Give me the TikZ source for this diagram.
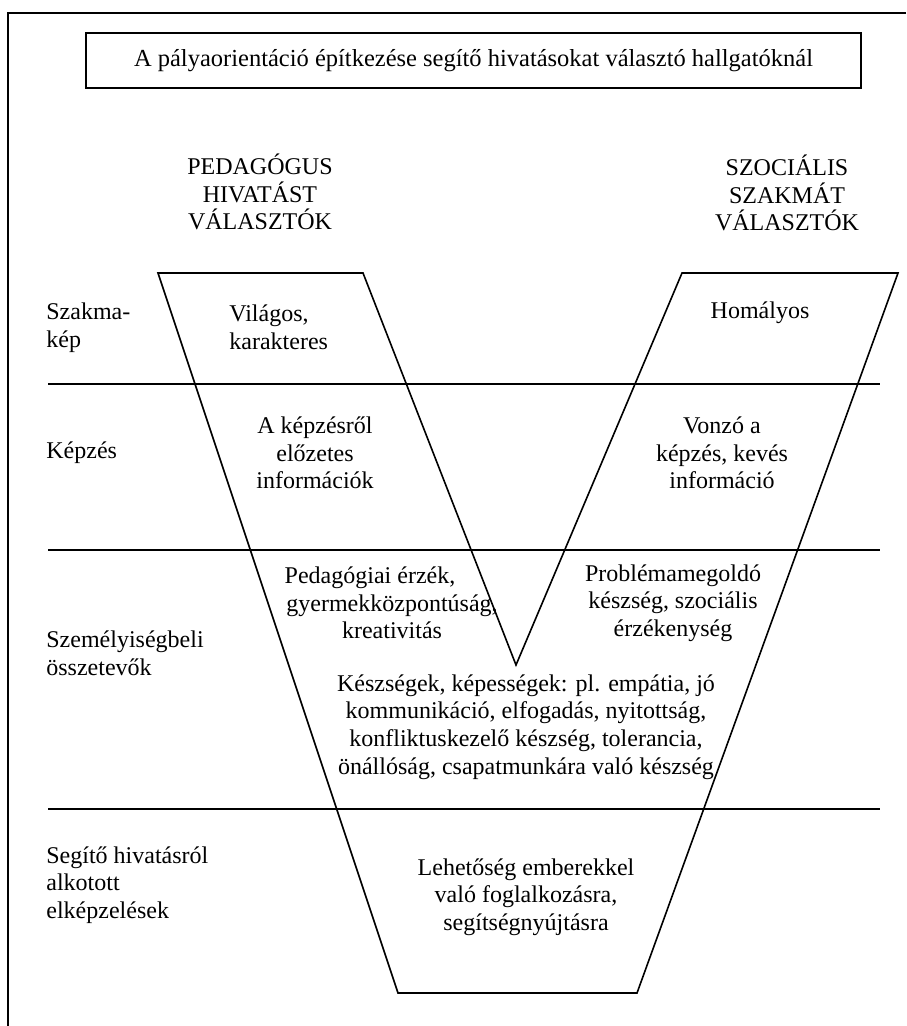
\documentclass[tikz,border=0pt]{standalone}
\usepackage{fontspec}
\setmainfont{Liberation Serif}
\usepackage{tikz}
\usepackage{xcolor}

\tikzset{
  rowline/.style={line width=0.8pt},
  rowlabel/.style={inner sep=0pt,anchor=west,align=left},
  celltext/.style={inner sep=0pt,align=center}
}

\begin{document}
\begin{tikzpicture}[x=0.5pt,y=-0.5pt,font=\fontsize{12}{13.8}\selectfont]
\useasboundingbox (0,0) rectangle (906,1026);
\draw [line width=1.1pt] (906,13) -- (8,13) -- (8,1026);
\node [draw,line width=1.1pt,minimum width=387.5pt,minimum height=27.5pt,
  font=\fontsize{12.25}{14}\selectfont] (title) at (473.5,60.5)
  {A pályaorientáció építkezése segítő hivatásokat választó hallgatóknál};

\node [celltext] (ped) at (260,192) {PEDAGÓGUS\\HIVATÁST\\VÁLASZTÓK};
\node [celltext] (szoc) at (787,193) {SZOCIÁLIS\\SZAKMÁT\\VÁLASZTÓK};

\draw [rowline] (158,273) -- (363,273) -- (516,665) -- (682,273) -- (898,273)
  -- (637,993) -- (398,993) -- cycle;
\draw [rowline] (48,384) -- (880,384);
\draw [rowline] (48,550) -- (880,550);
\draw [rowline] (48,809) -- (880,809);

\node [rowlabel] (szakma) at (46,327.5) {Szakma-\\kép};
\node [rowlabel] (kepzes) at (46,453) {Képzés};
\node [rowlabel] (szemely) at (46,653) {Személyiségbeli\\összetevők};
\node [rowlabel] (segito) at (46,885) {Segítő hivatásról\\alkotott\\elképzelések};

\node [celltext,anchor=west,align=left] (vilagos) at (229,327.5) {Világos,\\karakteres};
\node [celltext] (homalyos) at (760,313) {Homályos};
\node [celltext] (kepzesrol) at (315,453) {A képzésről\\előzetes\\információk};
\node [celltext] (vonzo) at (722,453) {Vonzó a\\képzés, kevés\\információ};
\node [celltext] (pedagogiai) at (392,603) {Pedagógiai érzék,\hspace*{22pt}\\gyermekközpontúság,\\kreativitás};
\node [celltext] (problema) at (673,603) {Problémamegoldó\\készség, szociális\\érzékenység};
\node [celltext] (keszsegek) at (526,727) {Készségek, képességek: pl. empátia, jó\\kommunikáció, elfogadás, nyitottság,\\konfliktuskezelő készség, tolerancia,\\önállóság, csapatmunkára való készség};
\node [celltext] (lehetoseg) at (526,897) {Lehetőség emberekkel\\való foglalkozásra,\\segítségnyújtásra};
\end{tikzpicture}
\end{document}
